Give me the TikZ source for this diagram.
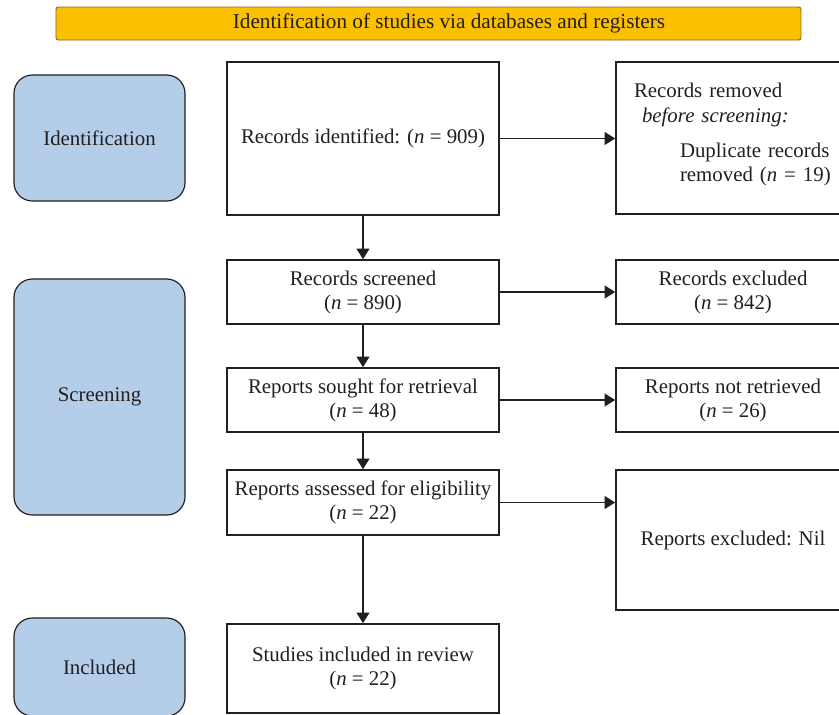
\documentclass[tikz,border=0pt]{standalone}
\usepackage{fontspec}
\setmainfont{Liberation Serif}
\usetikzlibrary{arrows.meta}
\definecolor{gold}{HTML}{FBC000}
\definecolor{goldline}{HTML}{8A6A10}
\definecolor{phase}{HTML}{B4CDE8}
\definecolor{ink}{HTML}{231F20}
\begin{document}
\begin{tikzpicture}[x=0.03cm,y=-0.03cm,
  every node/.style={font=\fontsize{17.8}{20.5}\selectfont, text=ink},
  box/.style={draw=ink, line width=1.4pt, fill=white, align=center, inner sep=0pt},
  phasebox/.style={draw=ink, line width=1pt, fill=phase, rounded corners=0.55cm, inner sep=0pt, minimum width=5.13cm},
  conn/.style={draw=ink, line width=1pt, -{Triangle[length=9pt,width=11pt]}}]
\useasboundingbox (0,0) rectangle (839,714);
% title bar
\node[draw=goldline, line width=0.8pt, fill=gold, rounded corners=2pt, minimum width=22.35cm, minimum height=0.99cm, inner sep=0pt, font=\fontsize{18.1}{20.5}\selectfont] (title) at (428.5,23.5) {\hspace*{1.23cm}Identification of studies via databases and registers};
% phase boxes
\node[phasebox, minimum height=3.78cm] (ident) at (99.5,138) {Identification};
\node[phasebox, minimum height=7.08cm] (screen) at (99.5,397) {Screening};
\node[phasebox, minimum height=2.94cm] (incl) at (99.5,667) {Included};
% centre column
\node[box, minimum width=8.16cm, minimum height=4.59cm] (c1) at (363,138.5) {Records identified: (\textit{n}~=~909)};
\node[box, minimum width=8.16cm, minimum height=1.92cm] (c2) at (363,292) {Records screened\\(\textit{n}~=~890)};
\node[box, minimum width=8.16cm, minimum height=1.92cm] (c3) at (363,400) {Reports sought for retrieval\\(\textit{n}~=~48)};
\node[box, minimum width=8.16cm, minimum height=1.95cm] (c4) at (363,502.5) {Reports assessed for eligibility\\(\textit{n}~=~22)};
\node[box, minimum width=8.16cm, minimum height=2.67cm] (c5) at (363,668.5) {Studies included in review\\(\textit{n}~=~22)};
% right column
\node[box, minimum width=7.02cm, minimum height=4.56cm] (r1) at (733,138) {};
\node[align=left, text width=5.94cm, inner sep=0pt] (r1text) at (733,134.5)
  {Records removed\\[1pt]
   \hspace*{0.24cm}\textit{before screening:}\\[10pt]
   \hspace*{1.38cm}Duplicate records\\
   \hspace*{1.38cm}removed (\textit{n}~=~19)};
\node[box, minimum width=7.02cm, minimum height=1.92cm] (r2) at (733,292) {Records excluded\\(\textit{n}~=~842)};
\node[box, minimum width=7.02cm, minimum height=1.92cm] (r3) at (733,400) {Reports not retrieved\\(\textit{n}~=~26)};
\node[box, minimum width=7.02cm, minimum height=4.2cm] (r4) at (733,540) {Reports excluded: Nil};
% connectors
\draw[conn] (c1.south) -- (c2.north);
\draw[conn] (c2.south) -- (c3.north);
\draw[conn] (c3.south) -- (c4.north);
\draw[conn] (c4.south) -- (c5.north);
\draw[conn] (c1.east) -- (c1.east -| r1.west);
\draw[conn] (c2.east) -- (c2.east -| r2.west);
\draw[conn] (c3.east) -- (c3.east -| r3.west);
\draw[conn] (c4.east) -- (c4.east -| r4.west);
\end{tikzpicture}
\end{document}
